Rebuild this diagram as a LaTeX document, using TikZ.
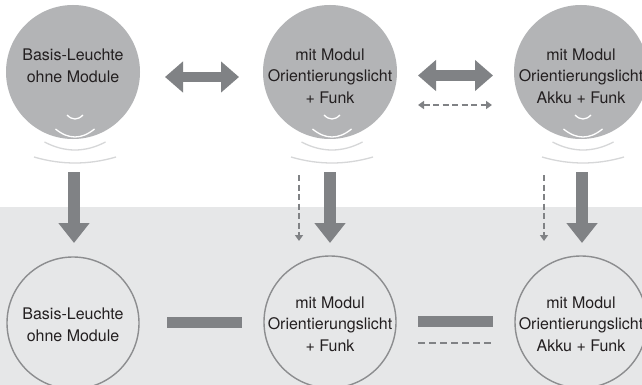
\documentclass[tikz,border=0pt]{standalone}
\usepackage{fontspec}
\setmainfont{TeX Gyre Heros}
\usetikzlibrary{arrows.meta,calc}
\definecolor{bgray}{HTML}{E6E7E8}
\definecolor{cfill}{HTML}{B3B4B6}
\definecolor{agray}{HTML}{808285}
\definecolor{cline}{HTML}{8C8D8F}
\definecolor{arcout}{HTML}{D6D7D8}
\definecolor{txt}{HTML}{231F20}
\tikzset{
  topc/.style={circle,fill=cfill,minimum size=134pt,inner sep=0pt},
  botc/.style={circle,draw=cline,line width=1.4pt,minimum size=132pt,inner sep=0pt},
  lbl/.style={align=center,font=\fontsize{16pt}{21.5pt}\selectfont,text=txt,inner sep=0pt},
  bigh/.style={agray,line width=10.5pt,{Triangle[width=30pt,length=18pt]}-{Triangle[width=30pt,length=18pt]}},
  bigv/.style={agray,line width=12pt,-{Triangle[width=30pt,length=20pt]}},
  dashh/.style={agray,line width=2pt,dash pattern=on 6pt off 3.5pt,{Triangle[width=8pt,length=6pt]}-{Triangle[width=8pt,length=6pt]}},
  dashv/.style={agray,line width=2pt,dash pattern=on 6pt off 3.5pt,-{Triangle[width=8pt,length=6pt]}},
  bar/.style={agray,line width=11pt},
  dashbar/.style={agray,line width=2.8pt,dash pattern=on 7pt off 4pt},
  arcin/.style={white,line width=1.3pt},
  arcou/.style={arcout,line width=1.3pt},
}
\newcommand{\signal}[1]{%
  \draw[arcin] ($(#1)+(-6,43)$) .. controls ($(#1)+(-0.67,48.33)$) and ($(#1)+(4.67,48.33)$) .. ($(#1)+(10,43)$);
  \draw[arcin] ($(#1)+(-17.5,57)$) .. controls ($(#1)+(-4.5,67.67)$) and ($(#1)+(8.5,67.67)$) .. ($(#1)+(21.5,57)$);
  \draw[arcou] ($(#1)+(-28.5,70)$) .. controls ($(#1)+(-8.17,80.67)$) and ($(#1)+(12.17,80.67)$) .. ($(#1)+(32.5,70)$);
  \draw[arcou] ($(#1)+(-39,85)$) .. controls ($(#1)+(-11.67,93)$) and ($(#1)+(15.67,93)$) .. ($(#1)+(43,85)$);
}
\begin{document}
\begin{tikzpicture}[x=1pt,y=-1pt]
\useasboundingbox (0,0) rectangle (642,385);
\fill[white] (0,0) rectangle (642,207);
\fill[bgray] (0,207) rectangle (642,385);
% top circles
\node[topc] (t1) at (73,72) {};
\node[topc] (t2) at (330,72) {};
\node[topc] (t3) at (581,72) {};
\signal{t1}
\signal{t2}
\signal{t3}
\node[lbl] (l1) at (73,66) {Basis-Leuchte\\ohne Module};
\node[lbl] (l2) at (330,76) {mit Modul\\Orientierungslicht\\+ Funk};
\node[lbl] (l3) at (581,76) {mit Modul\\Orientierungslicht\\Akku + Funk};
% bottom circles
\node[botc] (b1) at (73,323) {};
\node[botc] (b2) at (330,322) {};
\node[botc] (b3) at (581,322) {};
\node[lbl] (m1) at (73,325) {Basis-Leuchte\\ohne Module};
\node[lbl] (m2) at (330,324) {mit Modul\\Orientierungslicht\\+ Funk};
\node[lbl] (m3) at (581,324) {mit Modul\\Orientierungslicht\\Akku + Funk};
% horizontal double arrows
\coordinate (h1a) at (165,77); \coordinate (h1b) at (239,77);
\draw[bigh] (h1a) -- (h1b);
\coordinate (h2a) at (418,75.5); \coordinate (h2b) at (493,75.5);
\draw[bigh] (h2a) -- (h2b);
\coordinate (h3a) at (418,105); \coordinate (h3b) at (492,105);
\draw[dashh] (h3a) -- (h3b);
% vertical arrows
\coordinate (v1a) at (74,172); \coordinate (v1b) at (74,243);
\draw[bigv] (v1a) -- (v1b);
\coordinate (v2a) at (330,172); \coordinate (v2b) at (330,243);
\draw[bigv] (v2a) -- (v2b);
\coordinate (v3a) at (582,172); \coordinate (v3b) at (582,243);
\draw[bigv] (v3a) -- (v3b);
\coordinate (d2a) at (299,175); \coordinate (d2b) at (299,241);
\draw[dashv] (d2a) -- (d2b);
\coordinate (d3a) at (544,175); \coordinate (d3b) at (544,241);
\draw[dashv] (d3a) -- (d3b);
% bottom bars
\coordinate (p1a) at (167,322); \coordinate (p1b) at (242,322);
\draw[bar] (p1a) -- (p1b);
\coordinate (p2a) at (418,321.5); \coordinate (p2b) at (493,321.5);
\draw[bar] (p2a) -- (p2b);
\coordinate (p3a) at (418,343); \coordinate (p3b) at (493,343);
\draw[dashbar] (p3a) -- (p3b);
\end{tikzpicture}
\end{document}
